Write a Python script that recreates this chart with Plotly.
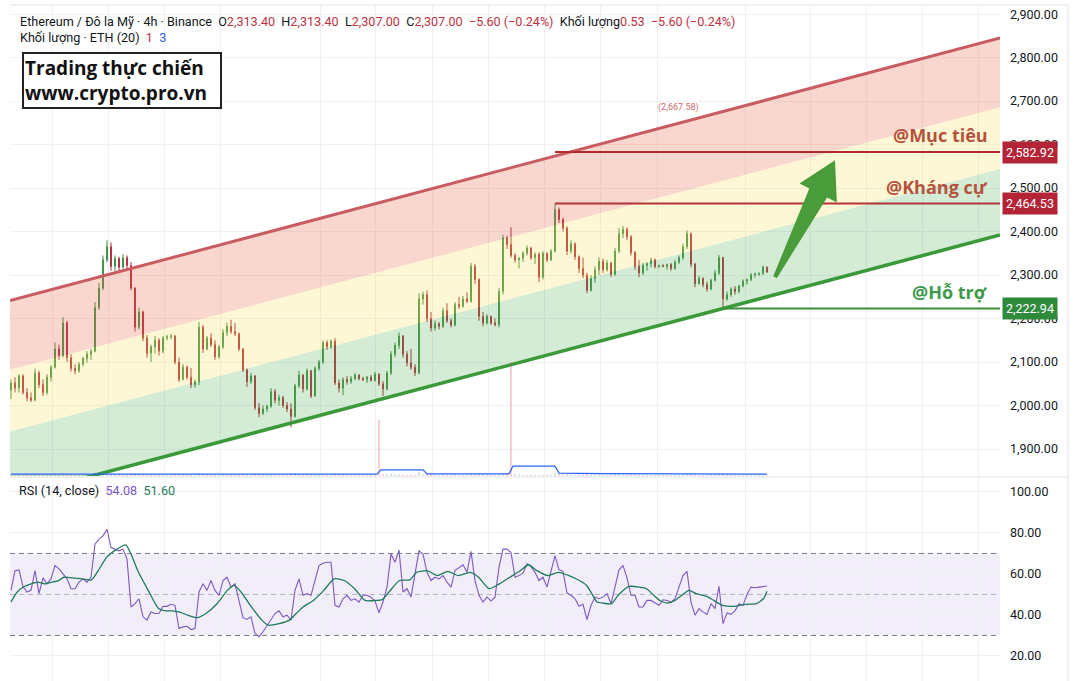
import math
import plotly.graph_objects as go

# ETH / USD 4h candles (one candle every 4 px)
opens = [2035, 2052, 2040, 2068, 2030, 2018, 2012, 2075, 2048, 2030,
         2065, 2088, 2130, 2115, 2190, 2110, 2085, 2080, 2095, 2108,
         2118, 2125, 2225, 2270, 2335, 2365, 2320, 2338, 2318, 2340,
         2322, 2270, 2180, 2215, 2155, 2120, 2135, 2150, 2125, 2155,
         2158, 2160, 2100, 2060, 2088, 2065, 2048, 2055, 2180, 2130,
         2155, 2140, 2112, 2135, 2168, 2182, 2170, 2165, 2130, 2082,
         2055, 2068, 1995, 1982, 1992, 1998, 2032, 2012, 2018, 2000,
         1992, 1975, 2045, 2070, 2038, 2080, 2022, 2085, 2100, 2145,
         2135, 2148, 2052, 2040, 2060, 2055, 2062, 2070, 2062, 2060,
         2065, 2058, 2072, 2050, 2038, 2075, 2118, 2138, 2160, 2118,
         2098, 2088, 2075, 2245, 2255, 2200, 2178, 2188, 2182, 2218,
         2195, 2185, 2232, 2228, 2245, 2240, 2320, 2290, 2205, 2190,
         2205, 2190, 2186, 2262, 2385, 2370, 2345, 2335, 2338, 2350,
         2362, 2340, 2348, 2295, 2350, 2335, 2355, 2450, 2428, 2408,
         2355, 2372, 2342, 2315, 2300, 2265, 2292, 2312, 2332, 2312,
         2328, 2302, 2355, 2395, 2405, 2388, 2352, 2320, 2305, 2322,
         2326, 2335, 2320, 2322, 2320, 2324, 2315, 2330, 2340, 2365,
         2395, 2325, 2280, 2292, 2278, 2268, 2288, 2305, 2340, 2245,
         2255, 2268, 2262, 2275, 2286, 2290, 2300, 2302, 2304, 2318]
highs = [2060, 2065, 2072, 2072, 2040, 2030, 2085, 2080, 2060, 2072,
         2092, 2145, 2140, 2203, 2195, 2118, 2095, 2100, 2112, 2125,
         2130, 2238, 2282, 2345, 2380, 2375, 2345, 2342, 2348, 2345,
         2330, 2272, 2225, 2218, 2162, 2140, 2160, 2155, 2160, 2162,
         2165, 2162, 2110, 2095, 2092, 2086, 2060, 2192, 2185, 2160,
         2166, 2150, 2140, 2175, 2190, 2197, 2190, 2168, 2132, 2085,
         2075, 2070, 2006, 2000, 2002, 2040, 2038, 2025, 2022, 2008,
         2005, 2050, 2080, 2072, 2085, 2082, 2090, 2105, 2150, 2150,
         2152, 2155, 2060, 2065, 2068, 2068, 2075, 2072, 2066, 2068,
         2070, 2078, 2074, 2056, 2080, 2125, 2145, 2168, 2162, 2125,
         2130, 2095, 2258, 2262, 2265, 2215, 2195, 2192, 2225, 2235,
         2200, 2238, 2250, 2252, 2260, 2328, 2326, 2292, 2215, 2210,
         2207, 2200, 2270, 2392, 2390, 2410, 2350, 2342, 2355, 2368,
         2365, 2352, 2352, 2355, 2352, 2360, 2465, 2455, 2432, 2412,
         2380, 2375, 2345, 2340, 2305, 2300, 2320, 2341, 2338, 2335,
         2330, 2362, 2408, 2413, 2410, 2392, 2355, 2335, 2328, 2330,
         2340, 2338, 2324, 2325, 2326, 2328, 2335, 2345, 2372, 2403,
         2398, 2328, 2298, 2295, 2285, 2292, 2312, 2346, 2342, 2262,
         2272, 2275, 2278, 2290, 2292, 2305, 2306, 2306, 2322, 2320]
lows = [2015, 2030, 2030, 2025, 2010, 2008, 2010, 2040, 2022, 2025,
        2055, 2085, 2105, 2110, 2100, 2078, 2072, 2075, 2090, 2098,
        2105, 2122, 2220, 2265, 2330, 2310, 2308, 2310, 2315, 2315,
        2265, 2170, 2175, 2148, 2110, 2100, 2120, 2115, 2120, 2150,
        2152, 2095, 2054, 2058, 2060, 2040, 2041, 2047, 2121, 2127,
        2135, 2105, 2108, 2130, 2160, 2165, 2160, 2125, 2077, 2043,
        2050, 1990, 1973, 1978, 1985, 1995, 2005, 2000, 1995, 1985,
        1950, 1972, 2040, 2030, 2035, 2017, 2020, 2080, 2095, 2128,
        2130, 2047, 2030, 2024, 2048, 2050, 2058, 2058, 2056, 2052,
        2055, 2055, 2045, 2022, 2035, 2070, 2112, 2130, 2110, 2090,
        2082, 2068, 2072, 2232, 2192, 2170, 2172, 2175, 2178, 2190,
        2180, 2182, 2222, 2225, 2235, 2236, 2280, 2195, 2182, 2186,
        2185, 2182, 2180, 2255, 2360, 2340, 2328, 2315, 2330, 2345,
        2335, 2325, 2284, 2290, 2330, 2332, 2352, 2420, 2400, 2346,
        2350, 2335, 2305, 2293, 2258, 2262, 2282, 2300, 2305, 2308,
        2296, 2298, 2350, 2385, 2380, 2345, 2312, 2295, 2300, 2310,
        2318, 2315, 2316, 2318, 2312, 2310, 2312, 2325, 2335, 2360,
        2318, 2272, 2278, 2272, 2262, 2265, 2285, 2300, 2223, 2240,
        2250, 2255, 2258, 2272, 2278, 2286, 2294, 2298, 2300, 2305]
closes = [2052, 2040, 2068, 2030, 2018, 2012, 2075, 2048, 2030, 2065,
          2088, 2130, 2115, 2190, 2110, 2085, 2080, 2095, 2108, 2118,
          2125, 2225, 2270, 2335, 2365, 2320, 2338, 2318, 2340, 2322,
          2270, 2180, 2215, 2155, 2120, 2135, 2150, 2125, 2155, 2158,
          2160, 2100, 2060, 2088, 2065, 2048, 2055, 2180, 2130, 2155,
          2140, 2112, 2135, 2168, 2182, 2170, 2165, 2130, 2082, 2055,
          2068, 1995, 1982, 1992, 1998, 2032, 2012, 2018, 2000, 1992,
          1975, 2045, 2070, 2038, 2080, 2022, 2085, 2100, 2145, 2135,
          2148, 2052, 2040, 2060, 2055, 2062, 2070, 2062, 2060, 2065,
          2058, 2072, 2050, 2038, 2075, 2118, 2138, 2160, 2118, 2098,
          2088, 2075, 2245, 2255, 2200, 2178, 2188, 2182, 2218, 2195,
          2185, 2232, 2228, 2245, 2240, 2320, 2290, 2205, 2190, 2205,
          2190, 2186, 2262, 2385, 2370, 2345, 2335, 2338, 2350, 2362,
          2340, 2348, 2295, 2350, 2335, 2355, 2450, 2428, 2408, 2355,
          2372, 2342, 2315, 2300, 2265, 2292, 2312, 2332, 2312, 2328,
          2302, 2355, 2395, 2405, 2388, 2352, 2320, 2305, 2322, 2326,
          2335, 2320, 2322, 2320, 2324, 2315, 2330, 2340, 2365, 2395,
          2325, 2280, 2292, 2278, 2268, 2288, 2305, 2340, 2245, 2255,
          2268, 2262, 2275, 2286, 2290, 2300, 2302, 2304, 2318, 2307]
volume = [3, 2, 4, 2, 3, 2, 5, 3, 2, 3,
          4, 5, 3, 6, 4, 3, 2, 2, 3, 2,
          3, 7, 6, 5, 6, 5, 3, 3, 2, 3,
          4, 6, 4, 4, 3, 2, 3, 2, 2, 2,
          2, 4, 4, 3, 2, 3, 2, 6, 4, 3,
          2, 3, 2, 3, 3, 2, 2, 3, 4, 3,
          2, 5, 4, 2, 2, 3, 2, 2, 2, 2,
          5, 6, 3, 3, 3, 3, 3, 2, 3, 2,
          2, 5, 3, 3, 2, 2, 2, 2, 2, 2,
          2, 2, 119, 4, 3, 4, 3, 3, 3, 2,
          3, 2, 8, 3, 4, 3, 2, 2, 3, 3,
          2, 3, 2, 2, 2, 5, 3, 4, 3, 2,
          2, 2, 3, 6, 3, 242, 4, 3, 2, 2,
          3, 2, 2, 2, 3, 2, 6, 4, 3, 4,
          3, 2, 3, 3, 4, 3, 3, 3, 2, 2,
          2, 4, 4, 3, 2, 3, 3, 2, 2, 2,
          2, 2, 2, 2, 2, 2, 2, 2, 3, 5,
          4, 3, 2, 2, 2, 3, 3, 5, 6, 3,
          3, 2, 2, 2, 2, 2, 2, 2, 2, 2]
vol_ma_idx = [0, 91.5, 92.5, 103, 104, 124.5, 125.5, 136, 137, 148, 189]
vol_ma = [4, 4, 13, 13, 4.5, 4.5, 21, 21, 6, 5, 4]

rsi = [52.0, 61.6, 62.0, 53.9, 51.2, 52.0, 61.6, 50.4, 58.1, 55.2,
       57.6, 64.1, 62.5, 60.0, 57.6, 52.8, 52.8, 56.0, 57.6, 56.0,
       58.4, 74.5, 77.0, 78.6, 81.8, 72.9, 72.1, 71.3, 72.1, 67.3,
       43.9, 45.5, 47.9, 39.1, 37.5, 41.5, 40.7, 40.7, 44.2, 44.2,
       45.2, 44.7, 33.4, 34.2, 34.5, 32.9, 33.4, 51.2, 55.2, 52.0,
       56.8, 52.0, 49.6, 56.8, 58.4, 53.6, 55.2, 47.1, 38.7, 37.8,
       39.1, 31.0, 29.4, 31.8, 35.0, 37.5, 40.7, 42.0, 39.1, 39.9,
       37.5, 52.0, 57.6, 49.6, 50.4, 49.6, 57.6, 64.1, 65.2, 65.7,
       65.7, 44.7, 43.9, 47.9, 49.6, 47.1, 47.9, 46.3, 49.6, 49.6,
       48.7, 46.8, 41.0, 46.3, 53.6, 69.7, 65.7, 71.6, 51.2, 52.8,
       48.7, 60.8, 71.3, 69.7, 60.8, 56.8, 58.4, 57.6, 59.2, 56.0,
       53.6, 61.6, 62.9, 64.5, 60.8, 71.0, 56.8, 49.6, 46.3, 48.7,
       46.8, 48.7, 63.3, 72.1, 72.1, 70.5, 58.4, 59.2, 60.4, 64.9,
       63.6, 60.8, 56.8, 58.4, 53.6, 62.0, 68.9, 62.0, 61.3, 50.7,
       49.6, 47.9, 44.2, 45.2, 37.8, 44.7, 48.7, 47.9, 48.7, 50.4,
       45.5, 53.6, 62.0, 64.1, 58.1, 49.6, 49.6, 43.9, 43.9, 47.1,
       47.1, 45.8, 44.7, 47.4, 47.1, 46.3, 47.9, 53.6, 59.2, 61.3,
       46.3, 39.9, 43.1, 41.5, 40.3, 45.5, 43.1, 54.0, 35.8, 41.0,
       40.3, 42.0, 45.5, 44.7, 50.0, 53.6, 53.3, 53.6, 53.9, 54.1]
rsi_ma_idx = [0, 1.5, 3.3, 5, 6.7, 8.4, 10.2, 11.9, 13.2, 15.3, 17.9, 20.1, 21.8,
              23.9, 26.5, 28.7, 30, 31.7, 34.3, 36.9, 38.6, 40.3, 42, 44.2, 46.5,
              48.9, 51.5, 54.1, 55.8, 57.5, 60.1, 62.7, 64.4, 67, 69.6, 71.3, 73,
              75.6, 78.2, 80.8, 83.3, 85.9, 88.5, 91.1, 92.8, 94.5, 97.1, 99.7,
              101.4, 104, 106.6, 109.2, 111.8, 114.8, 116.9, 119.5, 122.1, 124.7,
              127.3, 129.4, 131.5, 134.2, 136.8, 139.5, 142.1, 143.9, 145.2, 146.5,
              147.9, 150.1, 151.8, 154.5, 157.1, 158.9, 160.7, 162.4, 164.2, 166,
              167.7, 169.5, 171.3, 173.9, 175.7, 177.9, 181, 183.6, 186.3, 188.1, 189]
rsi_ma = [46.3, 51.1, 53.9, 55.2, 56, 55.2, 56, 56.8, 58.4, 58.1, 57.6, 57.1, 61.6,
          68.1, 72.1, 74.2, 69.7, 61.6, 52, 43.1, 42, 42, 41.5, 39.9, 38.7,
          41, 45.5, 52, 54.4, 51.2, 43.9, 37.5, 35, 35.8, 37.5, 40.7, 43.9,
          47.1, 52, 57.6, 56.8, 52.8, 47.1, 47.1, 47.5, 51.2, 56.8, 57.1,
          60.8, 61.6, 59.2, 61.3, 59.2, 60.8, 58.4, 52.8, 55.2, 58.4,
          61.6, 64.5, 61.6, 59.2, 60.8, 59.2, 56.8, 54.4, 50.4, 46.3,
          45.8, 45.5, 49.6, 53.9, 53.6, 52.8, 49.6, 46.8, 45.8, 47.1,
          49.6, 52, 50.4, 49.1, 47.1, 44.7, 44.2, 45.2, 45.5, 47.9, 51.6]

# drawings: rising channel (support line + band offsets above it)
channel_idx = [-0.25, 247.25]
support_line = [1788.2, 2392.0]
band_offsets = [0, 152, 294, 453]

level_prices = [2582.92, 2464.53, 2222.94]
level_start = [136, 136, 178]
level_names = ['@Mục tiêu', '@Kháng cự', '@Hỗ trợ']
swing_note = 2667.58
swing_note_idx = 166.75

arrow_tail = (191, 2295)
arrow_tip = (206, 2564)

price_ticks = [1900, 2000, 2100, 2200, 2300, 2400, 2500, 2600, 2700, 2800, 2900]
rsi_ticks = [20, 40, 60, 80, 100]
rsi_levels = [70, 50, 30]
time_grid = [10.25, 24.25, 38.25, 52.25, 77.25, 91, 105.25, 119.25, 133.25,
             147.25, 161.5, 183.5, 199.75, 213.75, 227.75, 241.75]

W, H = 1076, 681
M = dict(l=10, r=76, t=5, b=0)
X_RANGE = [-0.25, 247.25]
Y_RANGE = [1838, 2921]
RSI_RANGE = [7.8, 106.8]
MAIN_DOM = [0.3033, 1.0]
RSI_DOM = [0.0, 0.3003]

UP = '#3d8f40'
DOWN = '#b02a37'
RED_TXT = '#c0323f'
FONT = 'Roboto, "Liberation Sans", sans-serif'
GRID = '#eef0f4'
idx = list(range(len(closes)))

fig = go.Figure()

# channel bands
band_colors = ['rgba(76,175,80,0.24)', 'rgba(251,220,80,0.24)', 'rgba(232,100,70,0.26)']
for lo, hi, col in zip(band_offsets[:-1], band_offsets[1:], band_colors):
    fig.add_trace(go.Scatter(
        x=[channel_idx[0], channel_idx[1], channel_idx[1], channel_idx[0]],
        y=[support_line[0] + lo, support_line[1] + lo, support_line[1] + hi, support_line[0] + hi],
        fill='toself', fillcolor=col, line=dict(width=0), mode='lines',
        hoverinfo='skip', showlegend=False))

fig.add_trace(go.Scatter(x=channel_idx, y=[p + band_offsets[-1] for p in support_line],
                         mode='lines', line=dict(color='#c95c62', width=3),
                         hoverinfo='skip', showlegend=False))
fig.add_trace(go.Scatter(x=channel_idx, y=support_line, mode='lines',
                         line=dict(color='#3a9a3a', width=3.5),
                         hoverinfo='skip', showlegend=False))

# level lines
level_colors = ['#b22b2b', '#b23535', '#3a8f3a']
for p, s, c in zip(level_prices, level_start, level_colors):
    fig.add_trace(go.Scatter(x=[s, X_RANGE[1]], y=[p, p], mode='lines',
                             line=dict(color=c, width=2), hoverinfo='skip', showlegend=False))

# candles
fig.add_trace(go.Candlestick(
    x=idx, open=opens, high=highs, low=lows, close=closes,
    increasing=dict(line=dict(color=UP, width=1), fillcolor=UP),
    decreasing=dict(line=dict(color=DOWN, width=1), fillcolor=DOWN),
    whiskerwidth=0, hoverinfo='skip', showlegend=False))

# volume overlay
vol_colors = ['rgba(60,150,70,0.5)' if c >= o else 'rgba(220,80,95,0.55)'
              for o, c in zip(opens, closes)]
fig.add_trace(go.Bar(x=idx, y=volume, width=0.25, marker=dict(color=vol_colors, line=dict(width=0)),
                     yaxis='y3', hoverinfo='skip', showlegend=False))
fig.add_trace(go.Scatter(x=vol_ma_idx, y=vol_ma, mode='lines', yaxis='y3',
                         line=dict(color='#2962ff', width=1.2), hoverinfo='skip', showlegend=False))

# arrow, drawn as a tapered polygon in screen proportions
plot_w = W - M['l'] - M['r']
plot_h = H - M['t'] - M['b']
sx = plot_w / (X_RANGE[1] - X_RANGE[0])
sy = plot_h * (MAIN_DOM[1] - MAIN_DOM[0]) / (Y_RANGE[1] - Y_RANGE[0])
tx, ty = arrow_tail[0] * sx, arrow_tail[1] * sy
hx, hy = arrow_tip[0] * sx, arrow_tip[1] * sy
dx, dy = hx - tx, hy - ty
L = math.hypot(dx, dy)
nx, ny = -dy / L, dx / L
shape_pts = [(0, -2), (0.72, -10), (0.72, -21), (1, 0), (0.72, 21), (0.72, 10), (0, 2), (0, -2)]
ax_pts = [(tx + f * dx + w * nx) / sx for f, w in shape_pts]
ay_pts = [(ty + f * dy + w * ny) / sy for f, w in shape_pts]
fig.add_trace(go.Scatter(x=ax_pts, y=ay_pts, fill='toself', fillcolor='#4a9c3b',
                         line=dict(width=0), mode='lines', hoverinfo='skip', showlegend=False))

# RSI pane
fig.add_shape(type='rect', xref='x2 domain', yref='y2', x0=0, x1=1, y0=rsi_levels[2], y1=rsi_levels[0],
              fillcolor='rgba(126,87,194,0.1)', line=dict(width=0), layer='below')
for lv in rsi_levels:
    fig.add_shape(type='line', xref='x2 domain', yref='y2', x0=0, x1=1, y0=lv, y1=lv,
                  line=dict(color='#787b86' if lv != 50 else 'rgba(120,123,134,0.5)',
                            width=1, dash='5px,4px'))
fig.add_trace(go.Scatter(x=idx, y=rsi, mode='lines', xaxis='x2', yaxis='y2',
                         line=dict(color='#7e57c2', width=1.1), hoverinfo='skip', showlegend=False))
fig.add_trace(go.Scatter(x=rsi_ma_idx, y=rsi_ma, mode='lines', xaxis='x2', yaxis='y2',
                         line=dict(color='#1f7a5c', width=1.3, shape='spline', smoothing=0.6),
                         hoverinfo='skip', showlegend=False))

# frame: pane separator, top and right borders
for x0, x1, y0, y1 in [(0, 1.0687, 0.3018, 0.3018), (1.0687, 1.0687, 0, 1), (0, 1.0687, 1, 1)]:
    fig.add_shape(type='line', xref='paper', yref='paper', x0=x0, x1=x1, y0=y0, y1=y1,
                  line=dict(color='#e0e3eb', width=1))

annotations = []
sp = '&nbsp;'
red = lambda t: f"<span style='color:{RED_TXT}'>{t}</span>"
header1 = ('Ethereum / Đô la Mỹ · 4h · Binance' + sp * 2 + 'O' + red('2,313.40') + sp * 2 +
           'H' + red('2,313.40') + sp * 2 + 'L' + red('2,307.00') + sp * 2 + 'C' + red('2,307.00') +
           sp * 2 + red('−5.60 (−0.24%)') + sp * 2 + 'Khối lượng' + red('0.53') + sp * 2 +
           red('−5.60 (−0.24%)'))
annotations.append(dict(xref='paper', yref='paper', x=0.0081, y=0.9763, xanchor='left', yanchor='middle',
                        text=header1, showarrow=False, font=dict(family=FONT, size=12.6, color='#131722')))
annotations.append(dict(xref='paper', yref='paper', x=0.0081, y=0.9512, xanchor='left', yanchor='middle',
                        text='Khối lượng · ETH (20)' + sp * 2 + red('1') + sp * 2 +
                             "<span style='color:#2962ff'>3</span>",
                        showarrow=False, font=dict(family=FONT, size=12.6, color='#131722')))
annotations.append(dict(xref='paper', yref='paper', x=0.0121, y=0.9305, xanchor='left', yanchor='top',
                        text='<b>Trading thực chiến</b>' + sp * 3 + '<br><b>www.crypto.pro.vn</b>',
                        align='left', showarrow=False, bordercolor='#222', borderwidth=2, borderpad=1,
                        bgcolor='white', font=dict(family='"Open Sans", sans-serif', size=19, color='#111')))
annotations.append(dict(xref='paper', yref='paper', x=0.0071, y=0.2811, xanchor='left', yanchor='middle',
                        text='RSI (14, close)' + sp * 2 + "<span style='color:#7e57c2'>54.08</span>" + sp * 2 +
                             "<span style='color:#1f7a5c'>51.60</span>",
                        showarrow=False, font=dict(family=FONT, size=12.6, color='#131722')))
annotations.append(dict(x=swing_note_idx, y=swing_note, xref='x', yref='y', yanchor='bottom',
                        text=f'({swing_note:,.2f})', showarrow=False,
                        font=dict(family=FONT, size=9, color='#d06a6a')))

name_colors = ['#b5523d', '#b5523d', '#3d9a4a']
box_colors = ['#b42437', '#b42437', '#2f8a3c']
for p, n, nc, bc in zip(level_prices, level_names, name_colors, box_colors):
    annotations.append(dict(xref='paper', yref='y', x=0.9899, y=p, yshift=17, xanchor='right',
                            yanchor='middle', text=f'<b>{n}</b>', showarrow=False,
                            font=dict(family='"Open Sans", sans-serif', size=18, color=nc)))
    annotations.append(dict(xref='paper', yref='y', x=1.002, y=p, xanchor='left', yanchor='middle',
                            text=f'{p:,.2f}', showarrow=False, bgcolor=bc, borderpad=3,
                            font=dict(family=FONT, size=12.5, color='white')))

axis_font = dict(family=FONT, size=12.5, color='#131722')
fig.update_layout(
    width=W, height=H, margin=M, paper_bgcolor='white', plot_bgcolor='white',
    showlegend=False, boxgap=0.7, annotations=annotations,
    xaxis=dict(domain=[0, 1], range=X_RANGE, anchor='y', tickmode='array', tickvals=time_grid,
               showticklabels=False, ticks='', showgrid=True, gridcolor=GRID, zeroline=False,
               rangeslider=dict(visible=False)),
    xaxis2=dict(domain=[0, 1], range=X_RANGE, anchor='y2', tickmode='array', tickvals=time_grid,
                showticklabels=False, ticks='', showgrid=True, gridcolor=GRID, zeroline=False),
    yaxis=dict(domain=MAIN_DOM, range=Y_RANGE, side='right', anchor='x', tickmode='array',
               tickvals=price_ticks, tickformat=',.2f', showgrid=True, gridcolor=GRID,
               zeroline=False, tickfont=axis_font, ticks='', ticklabelstandoff=9),
    yaxis2=dict(domain=RSI_DOM, range=RSI_RANGE, side='right', anchor='x2', tickmode='array',
                tickvals=rsi_ticks, tickformat='.2f', showgrid=True, gridcolor=GRID,
                zeroline=False, tickfont=axis_font, ticks='', ticklabelstandoff=9),
    yaxis3=dict(overlaying='y', range=[0, 1000], visible=False, anchor='x'),
)

fig.write_html("out.html", config={'displayModeBar': False},
               post_script="document.body.style.margin='0';")
